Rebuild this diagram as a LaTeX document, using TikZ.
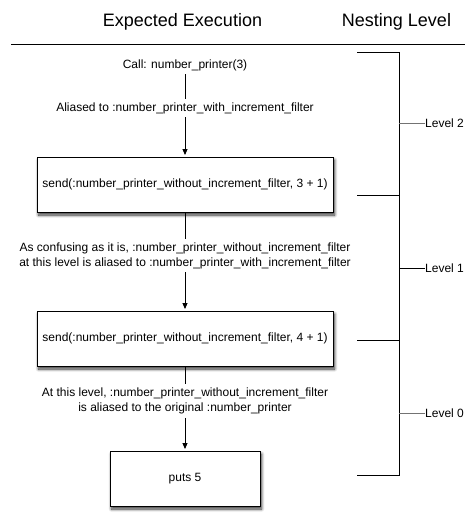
\documentclass[tikz,border=0pt]{standalone}
\usepackage{fontspec}
\setmainfont{Liberation Sans}
\usetikzlibrary{arrows.meta,shadows.blur}

\tikzset{
  stepbox/.style={draw,fill=white,line width=0.9pt,minimum height=55pt,
    font=\fontsize{12}{15}\selectfont,
    blur shadow={shadow xshift=1.5pt,shadow yshift=-3pt,shadow blur radius=3pt,shadow blur steps=8,shadow opacity=80}},
  note/.style={align=center,inner xsep=0pt,inner ysep=3.5pt,font=\fontsize{12}{15}\selectfont},
  head/.style={font=\fontsize{18}{21}\selectfont},
  flow/.style={line width=0.9pt},
  flowarrow/.style={flow,-{Triangle[length=6pt,width=5pt]},shorten >=1.5pt},
  tick/.style={line width=0.9pt,black!55},
}

\begin{document}
\begin{tikzpicture}[x=1pt,y=-1pt]
\useasboundingbox (0,0) rectangle (475,530);

% headings
\node[head] (exec) at (182.5,21.5) {Expected Execution};
\node[head] (nest) at (396.5,21.5) {Nesting Level};
\draw[flow] (11,44) -- (465,44);

% execution flow
\node[note] (call) at (185,65) {Call: number\_printer(3)};
\node[note] (alias) at (185,108) {Aliased to :number\_printer\_with\_increment\_filter};
\node[stepbox,minimum width=296pt] (send3) at (185,184.5) {send(:number\_printer\_without\_increment\_filter, 3 + 1)};
\node[note] (confuse) at (185,255.5) {As confusing as it is, :number\_printer\_without\_increment\_filter\\at this level is aliased to :number\_printer\_with\_increment\_filter};
\node[stepbox,minimum width=296pt] (send4) at (185,338.5) {send(:number\_printer\_without\_increment\_filter, 4 + 1)};
\node[note] (original) at (185,401) {At this level, :number\_printer\_without\_increment\_filter\\is aliased to the original :number\_printer};
\node[stepbox,minimum width=150pt] (puts) at (185,478.5) {puts 5};

\draw[flow] (call) -- (alias);
\draw[flowarrow] (alias) -- (send3);
\draw[flow] (send3) -- (confuse);
\draw[flowarrow] (confuse) -- (send4);
\draw[flow] (send4) -- (original);
\draw[flowarrow] (original) -- (puts);

% nesting bracket
\draw[flow] (357,52) -| (399,475) -- (357,475);
\draw[flow] (357,195) -- (399,195);
\draw[flow] (357,340) -- (399,340);

\coordinate (spine2) at (399,123);
\coordinate (spine1) at (399,268);
\coordinate (spine0) at (399,413);
\node[note,anchor=west] (lvl2) at (425,123) {Level 2};
\node[note,anchor=west] (lvl1) at (425,268) {Level 1};
\node[note,anchor=west] (lvl0) at (425,413) {Level 0};
\draw[tick] (spine2) -- (lvl2);
\draw[flow] (spine1) -- (lvl1);
\draw[tick] (spine0) -- (lvl0);
\end{tikzpicture}
\end{document}
